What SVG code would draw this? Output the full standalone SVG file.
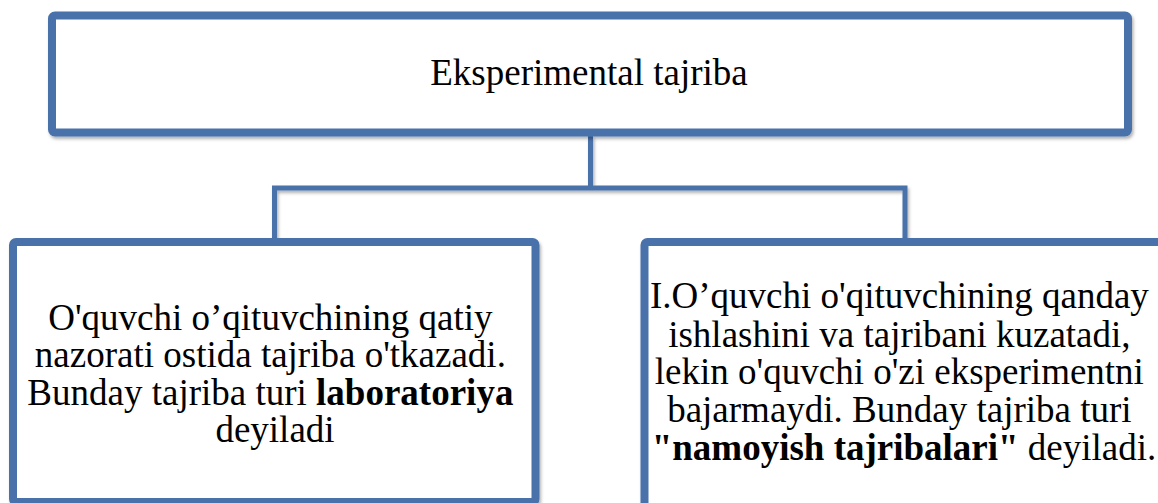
<svg xmlns="http://www.w3.org/2000/svg" width="1158" height="503" viewBox="0 0 1158 503">
<style>
.box{fill:#ffffff;stroke:#4872ab;stroke-width:8;filter:url(#sh)}
.conn{fill:none;stroke:#4872ab;stroke-width:5;filter:url(#sh)}
.t{font-family:"Liberation Serif","Times New Roman",serif;fill:#000;text-anchor:middle}
.b{font-weight:bold}
</style>
<defs>
<filter id="sh" x="-5%" y="-5%" width="110%" height="115%">
<feDropShadow dx="1.5" dy="2.5" stdDeviation="1.5" flood-color="#000" flood-opacity="0.3"/>
</filter>
</defs>
<g id="connectors">
<path class="conn" d="M590.5 136 V188 M274.5 240 V188 H905 V240"/>
</g>
<g id="top">
<rect class="box" x="52" y="15.5" width="1076" height="117" rx="3"/>
<text class="t" x="589" y="85" font-size="37">Eksperimental tajriba</text>
</g>
<g id="left">
<rect class="box" x="13" y="242" width="522.5" height="260" rx="3"/>
<text class="t" font-size="37">
<tspan x="275" y="330">O'quvchi o’qituvchining qatiy</tspan>
<tspan x="275" y="367">nazorati ostida tajriba o'tkazadi.</tspan>
<tspan x="275" y="405">Bunday tajriba turi <tspan class="b">laboratoriya</tspan></tspan>
<tspan x="275" y="442">deyiladi</tspan>
</text>
</g>
<g id="right">
<rect class="box" x="644.5" y="242" width="530" height="280" rx="3"/>
<text class="t" font-size="37">
<tspan x="904" y="308">I.O’quvchi o'qituvchining qanday</tspan>
<tspan x="904" y="347">ishlashini va tajribani kuzatadi,</tspan>
<tspan x="904" y="384">lekin o'quvchi o'zi eksperimentni</tspan>
<tspan x="904" y="422">bajarmaydi. Bunday tajriba turi</tspan>
<tspan x="904" y="460"><tspan class="b">"namoyish tajribalari"</tspan> deyiladi.</tspan>
</text>
</g>
</svg>
